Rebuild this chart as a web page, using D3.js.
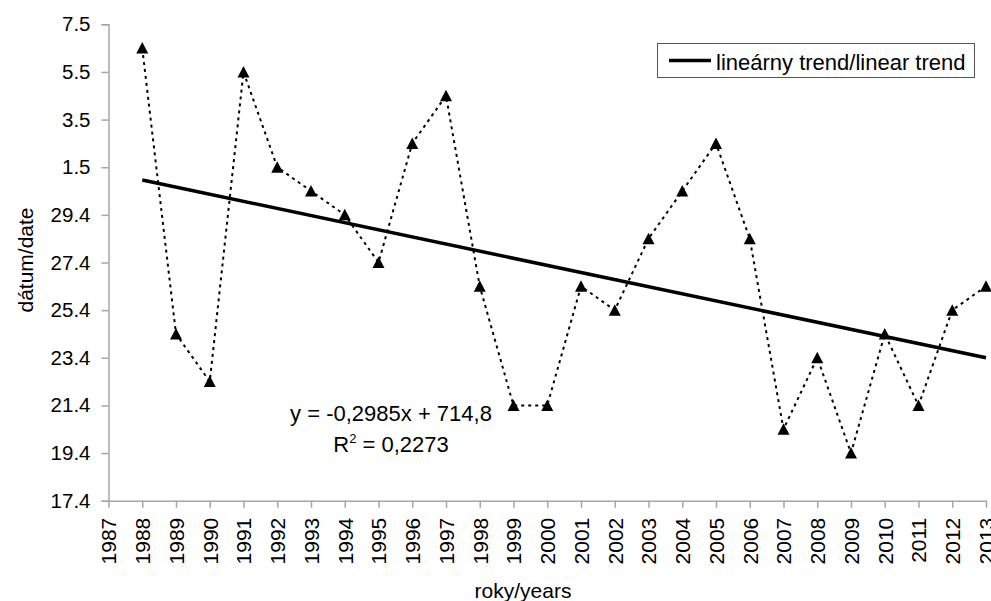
<!DOCTYPE html>
<html>
<head>
<meta charset="utf-8">
<script src="https://cdn.jsdelivr.net/npm/d3@7.9.0/dist/d3.min.js"></script>
<style>
  body { margin: 0; background: #fff; }
  svg { display: block; font-family: "Liberation Sans", Arial, sans-serif; }
</style>
</head>
<body>
<svg width="991" height="601"></svg>
<script>
// years on the x axis and the dates (day.month)
let years = d3.range(1988, 2014);
let dates = ['6.5', '24.4', '22.4', '5.5', '1.5', '30.4', '29.4', '27.4', '2.5', '4.5',
  '26.4', '21.4', '21.4', '26.4', '25.4', '28.4', '30.4', '2.5', '28.4', '20.4',
  '23.4', '19.4', '24.4', '21.4', '25.4', '26.4'];
let yearTicks = d3.range(1987, 2014);
let dateDomain = ['17.4', '7.5'];
let equationText = 'y = -0,2985x + 714,8';
let r2Text = '0,2273';
let legendLabel = 'lineárny trend/linear trend';

let parseDate = d3.utcParse('%d.%m');
let formatDate = d3.utcFormat('%-d.%-m');

let data = years.map((yr, i) => ({ year: yr, date: parseDate(dates[i]) }));

let svg = d3.select('svg');

let x = d3.scaleLinear().domain([1987, 2013]).range([108.5, 986]);
let y = d3.scaleUtc().domain(dateDomain.map(parseDate)).range([500.7, 24.3]);

let axisColor = '#a6a6a6';

// y axis
let yAxis = svg.append('g')
  .attr('transform', `translate(${x.range()[0]},0)`)
  .call(d3.axisLeft(y)
    .tickValues(y.ticks(d3.utcDay.every(2)))
    .tickFormat(formatDate)
    .tickSize(7)
    .tickPadding(11));
yAxis.select('.domain').attr('stroke', axisColor).attr('stroke-width', 1.5);
yAxis.selectAll('.tick line').attr('stroke', axisColor).attr('stroke-width', 1.5);
yAxis.selectAll('.tick text')
  .attr('font-size', 20.5)
  .attr('font-family', 'Liberation Sans, Arial, sans-serif')
  .attr('fill', '#000');

// x axis
let xAxis = svg.append('g')
  .attr('transform', `translate(0,${y.range()[0]})`)
  .call(d3.axisBottom(x)
    .tickValues(yearTicks)
    .tickFormat(d3.format('d'))
    .tickSize(7)
    .tickSizeOuter(0));
xAxis.select('.domain').attr('stroke', axisColor).attr('stroke-width', 1.5);
xAxis.selectAll('.tick line').attr('stroke', axisColor).attr('stroke-width', 1.5);
xAxis.selectAll('.tick text')
  .attr('font-size', 21)
  .attr('font-family', 'Liberation Sans, Arial, sans-serif')
  .attr('fill', '#000')
  .attr('transform', 'rotate(-90)')
  .attr('text-anchor', 'end')
  .attr('dy', '0.35em')
  .attr('x', -17)
  .attr('y', 0);

// axis titles
svg.append('text')
  .attr('x', 523)
  .attr('y', 598)
  .attr('text-anchor', 'middle')
  .attr('font-size', 21)
  .text('roky/years');

svg.append('text')
  .attr('transform', 'translate(33,260) rotate(-90)')
  .attr('text-anchor', 'middle')
  .attr('font-size', 21)
  .text('dátum/date');

// dotted series line
let line = d3.line()
  .x((d) => x(d.year))
  .y((d) => y(d.date));

svg.append('path')
  .datum(data)
  .attr('d', line)
  .attr('fill', 'none')
  .attr('stroke', '#000')
  .attr('stroke-width', 2)
  .attr('stroke-dasharray', '3,4');

// least squares trend, in days
let dayMs = 864e5;
let mx = d3.mean(data, (d) => d.year);
let my = d3.mean(data, (d) => +d.date / dayMs);
let sxy = d3.sum(data, (d) => (d.year - mx) * (+d.date / dayMs - my));
let sxx = d3.sum(data, (d) => (d.year - mx) ** 2);
let slope = sxy / sxx;
let fit = (yr) => new Date((my + slope * (yr - mx)) * dayMs);

let trendEnds = d3.extent(years).map((yr) => ({ year: yr, date: fit(yr) }));
svg.append('path')
  .datum(trendEnds)
  .attr('d', line)
  .attr('fill', 'none')
  .attr('stroke', '#000')
  .attr('stroke-width', 3.5);

// triangle markers
svg.selectAll('.marker')
  .data(data)
  .join('path')
  .attr('class', 'marker')
  .attr('transform', (d) => `translate(${x(d.year)},${y(d.date)})`)
  .attr('d', 'M0,-6L6,5.5L-6,5.5Z')
  .attr('fill', '#000');

// equation
svg.append('text')
  .attr('x', 391)
  .attr('y', 421)
  .attr('text-anchor', 'middle')
  .attr('font-size', 22)
  .text(equationText);

let r2 = svg.append('text')
  .attr('x', 391)
  .attr('y', 451.5)
  .attr('text-anchor', 'middle')
  .attr('font-size', 22);
r2.append('tspan').text('R');
r2.append('tspan').attr('font-size', 13).attr('dy', -9).text('2');
r2.append('tspan').attr('dy', 9).text(' = ' + r2Text);

// legend
let legend = svg.append('g');
legend.append('rect')
  .attr('x', 657.5)
  .attr('y', 43.5)
  .attr('width', 317)
  .attr('height', 34)
  .attr('fill', '#fff')
  .attr('stroke', '#555')
  .attr('stroke-width', 1);
legend.append('line')
  .attr('x1', 669)
  .attr('x2', 711)
  .attr('y1', 60.5)
  .attr('y2', 60.5)
  .attr('stroke', '#000')
  .attr('stroke-width', 3.5);
legend.append('text')
  .attr('x', 716)
  .attr('y', 69.5)
  .attr('font-size', 22)
  .text(legendLabel);
</script>
</body>
</html>
